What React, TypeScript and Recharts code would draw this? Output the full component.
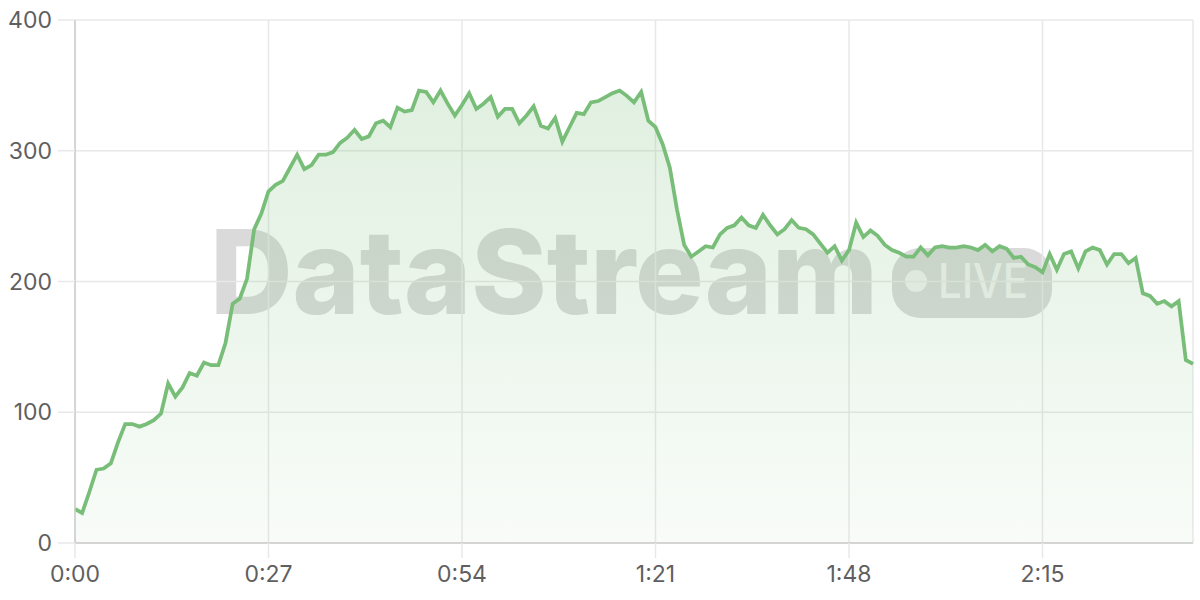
import { AreaChart, Area, XAxis, YAxis, CartesianGrid } from "recharts";

// concurrent viewers, one sample per second (0:00 .. 2:36)
const viewers = [
  26, 23, 39, 56, 57, 61, 77, 91, 91, 89,
  91, 94, 99, 122, 112, 119, 130, 128, 138, 136,
  136, 153, 183, 187, 202, 240, 252, 269, 274, 277,
  287, 297, 286, 289, 297, 297, 299, 306, 310, 316,
  309, 311, 321, 323, 318, 333, 330, 331, 346, 345,
  337, 346, 336, 327, 335, 344, 332, 336, 341, 326,
  332, 332, 321, 327, 334, 319, 317, 325, 307, 318,
  329, 328, 337, 338, 341, 344, 346, 342, 337, 345,
  323, 318, 305, 287, 255, 228, 219, 223, 227, 226,
  236, 241, 243, 249, 243, 241, 251, 243, 236, 240,
  247, 241, 240, 236, 229, 222, 227, 216, 224, 245,
  234, 239, 235, 228, 224, 222, 219, 219, 226, 220,
  226, 227, 226, 226, 227, 226, 224, 228, 223, 227,
  225, 218, 219, 213, 211, 207, 221, 209, 221, 223,
  210, 223, 226, 224, 213, 221, 221, 214, 218, 191,
  189, 183, 185, 181, 185, 140, 137,
];

const xTicks = [0, 27, 54, 81, 108, 135];
const xTickLabels = ["0:00", "0:27", "0:54", "1:21", "1:48", "2:15"];
const yTicks = [0, 100, 200, 300, 400];

const data = viewers.map((v, i) => ({ sec: i, viewers: v }));

const labelFont = "Inter, 'Noto Sans', sans-serif";

export default function App() {
  return (
    <div style={{ position: "relative", width: 1200, height: 600 }}>
      <style>{`body{margin:0}`}</style>
      {/* watermark sits behind the chart */}
      <svg
        width={1200}
        height={600}
        style={{ position: "absolute", left: 0, top: 0 }}
      >
        <text
          x={210}
          y={314}
          fontFamily={labelFont}
          fontWeight={800}
          fontSize={117}
          fill="#dadada"
          textLength={668}
          lengthAdjust="spacingAndGlyphs"
        >
          DataStream
        </text>
        <rect x={892} y={248} width={160} height={70} rx={28} fill="#dadada" />
        <circle cx={916} cy={281} r={11} fill="#f2f2f2" />
        <text
          x={938}
          y={298}
          fontFamily={labelFont}
          fontWeight={500}
          fontSize={48}
          fill="#f2f2f2"
          textLength={90}
          lengthAdjust="spacingAndGlyphs"
        >
          LIVE
        </text>
      </svg>
      <div style={{ position: "absolute", left: 0, top: 0 }}>
        <AreaChart
          width={1200}
          height={600}
          data={data}
          margin={{ top: 20, right: 7, bottom: 0, left: 0 }}
        >
          <defs>
            <linearGradient id="viewFill" x1="0" y1="0" x2="0" y2="1">
              <stop offset="0%" stopColor="#78bd78" stopOpacity={0.38} />
              <stop offset="100%" stopColor="#78bd78" stopOpacity={0.08} />
            </linearGradient>
          </defs>
          <CartesianGrid stroke="#e8e8e8" strokeWidth={1.5} />
          <XAxis
            dataKey="sec"
            type="number"
            domain={[0, 156]}
            ticks={xTicks}
            tickFormatter={(v: number) => xTickLabels[xTicks.indexOf(v)]}
            height={57}
            tickSize={15}
            tickMargin={8}
            axisLine={{ stroke: "#cccccc", strokeWidth: 1.5 }}
            tickLine={{ stroke: "#e8e8e8", strokeWidth: 1.5 }}
            tick={{ fill: "#5f5f5f", fontSize: 23, fontFamily: labelFont }}
          />
          <YAxis
            domain={[0, 400]}
            ticks={yTicks}
            width={75}
            tickSize={17}
            tickMargin={6}
            axisLine={{ stroke: "#cccccc", strokeWidth: 1.5 }}
            tickLine={{ stroke: "#e8e8e8", strokeWidth: 1.5 }}
            tick={{ fill: "#5f5f5f", fontSize: 23, fontFamily: labelFont }}
          />
          <Area
            type="linear"
            dataKey="viewers"
            stroke="#78bd78"
            strokeWidth={3.75}
            fill="url(#viewFill)"
            isAnimationActive={false}
          />
        </AreaChart>
      </div>
    </div>
  );
}
